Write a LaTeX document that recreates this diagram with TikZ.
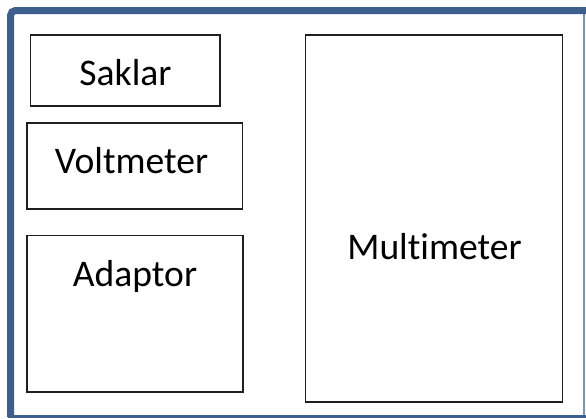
\documentclass[tikz,border=0pt]{standalone}
\usepackage{fontspec}
\setmainfont[Ligatures=NoCommon]{Carlito}
\usepackage{tikz}
\definecolor{frameblue}{RGB}{60,95,142}
\definecolor{edgeblue}{RGB}{122,148,188}

\begin{document}
\begin{tikzpicture}[x=1pt,y=-1pt]
        \tikzstyle{every node}+=[inner sep=0pt]
        \tikzstyle{partbox}=[draw=black!88, line width=1.2pt, rectangle]
        \tikzstyle{parttext}=[anchor=base, font=\fontsize{37.6}{42}\selectfont]
        \useasboundingbox (0,0) rectangle (586,418);
        % frame
        \draw [edgeblue, line width=1.5pt] (583.8,12) -- (583.8,416);
        \draw [frameblue, line width=2.6pt] (8,416.7) -- (586,416.7);
        \draw [frameblue, line width=7pt, rounded corners=5pt] (10.5,417) -- (10.5,10.5) -- (586,10.5);
        % boxes
        \node [partbox, minimum width=189.3pt, minimum height=71pt] (saklar) at (125.3,70.5) {};
        \node [partbox, minimum width=215.7pt, minimum height=86pt] (voltmeter) at (134.9,166) {};
        \node [partbox, minimum width=216pt, minimum height=156.3pt] (adaptor) at (135,313.8) {};
        \node [partbox, minimum width=256.6pt, minimum height=367pt] (multimeter) at (434,218.5) {};
        % labels
        \node [parttext] (saklarTxt) at (125.5,85) {Saklar};
        \node [parttext] (voltmeterTxt) at (131.5,173) {Voltmeter};
        \node [parttext] (adaptorTxt) at (135,286) {Adaptor};
        \node [parttext] (multimeterTxt) at (434.5,259) {Multimeter};
    \end{tikzpicture}
\end{document}
